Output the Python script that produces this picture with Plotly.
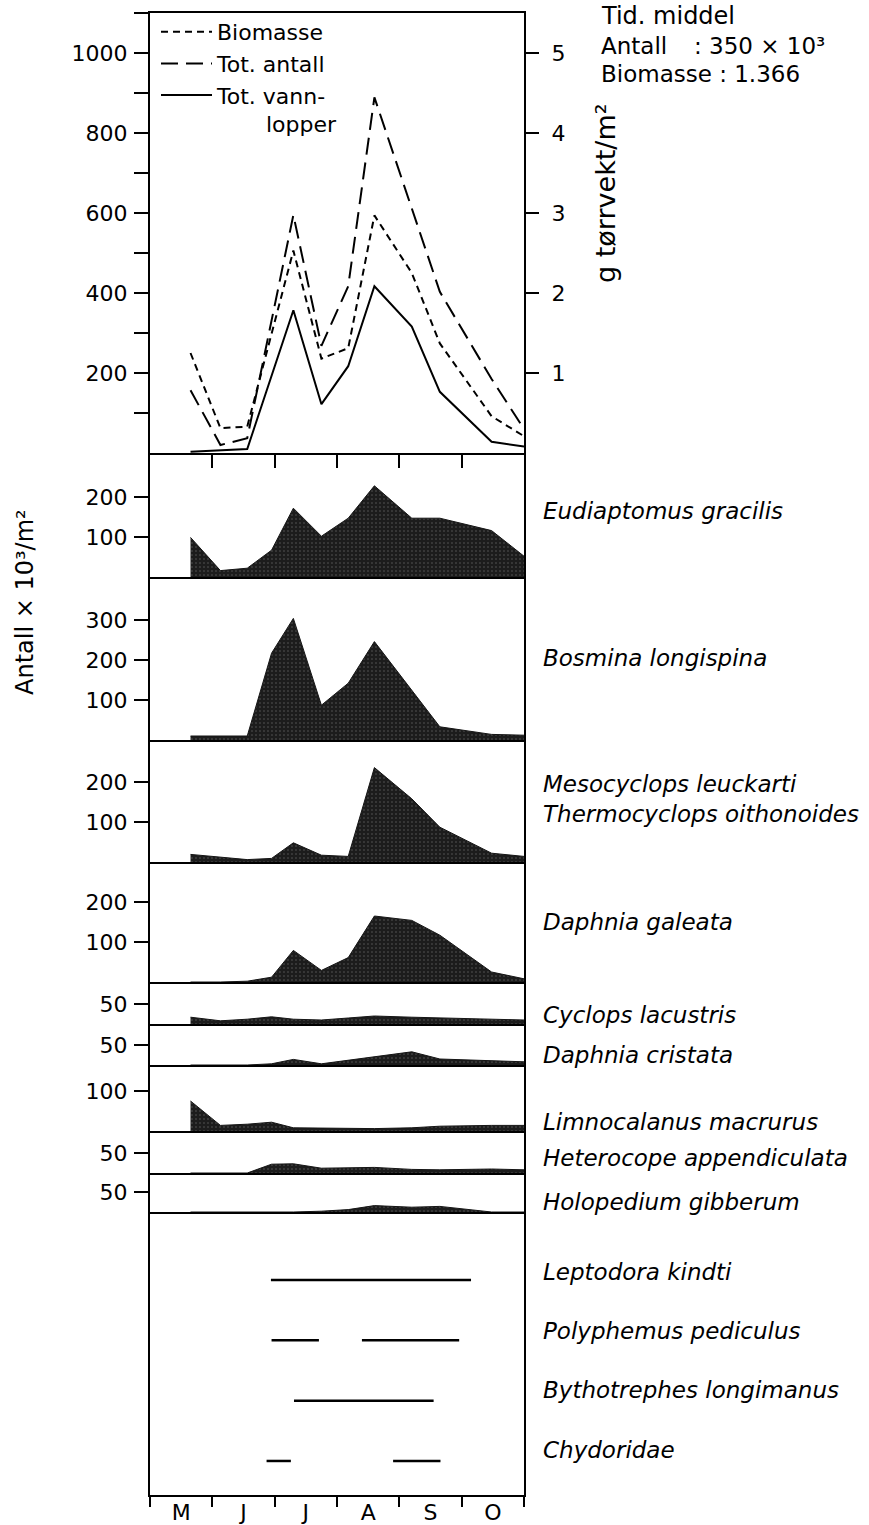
import plotly.graph_objects as go

# ---------------- data ----------------
# sampling dates, in months after 1 May (0 = 1 May ... 6 = 31 Oct)
dates = [0.65, 1.13, 1.56, 1.95, 2.30, 2.75, 3.18, 3.60, 4.20, 4.65, 5.48, 6.0]

months = ["M", "J", "J", "A", "S", "O"]

# top panel: totals (x 10^3 ind./m2) and biomass (g dry weight/m2)
tot_antall = [157, 20, 37, None, 595, 268, 417, 889, None, 403, 185, 60]
tot_vannlopper = [3, None, 10, None, 357, 122, 217, 417, 316, 153, 28, 16]
biomasse_g = [1.25, 0.31, 0.33, None, 2.53, 1.18, 1.31, 2.97, 2.25, 1.37, 0.46, 0.21]

# species densities (x 10^3 ind./m2)
species_names = [
    "Eudiaptomus gracilis",
    "Bosmina longispina",
    "Mesocyclops leuckarti<br>Thermocyclops oithonoides",
    "Daphnia galeata",
    "Cyclops lacustris",
    "Daphnia cristata",
    "Limnocalanus macrurus",
    "Heterocope appendiculata",
    "Holopedium gibberum",
]
eudiaptomus = [99, 16, 22, 67, 172, 102, 147, 228, 147, 147, 116, 52]
bosmina = [10, 10, 10, 217, 304, 87, 142, 246, 125, 33, 14, 12]
meso_thermo = [19, 13, 6, 9, 48, 17, 14, 236, 158, 87, 22, 14]
daphnia_galeata = [0, 0, 2, 12, 79, 29, 61, 165, 154, 117, 25, 8]
cyclops = [17, 8, 12, 18, 12, 10, 15, 20, 17, 15, 12, 10]
daphnia_cristata = [0, 0, 0, 3, 14, 3, 12, 22, 33, 15, 10, 8]
limnocalanus = [75, 14, 17, 22, 8, 7, 6, 6, 8, 12, 14, 14]
heterocope = [0, 0, 0, 22, 23, 12, 13, 14, 9, 8, 10, 8]
holopedium = [0, 0, 0, 0, 0, 2, 6, 16, 12, 14, 0, 0]
species_values = [eudiaptomus, bosmina, meso_thermo, daphnia_galeata, cyclops,
                  daphnia_cristata, limnocalanus, heterocope, holopedium]
species_ticks = [[100, 200], [100, 200, 300], [100, 200], [100, 200],
                 [50], [50], [100], [50], [50]]

# presence only (periods, months after 1 May)
presence_names = ["Leptodora kindti", "Polyphemus pediculus",
                  "Bythotrephes longimanus", "Chydoridae"]
presence_periods = [
    [(1.94, 5.15)],
    [(1.95, 2.71), (3.40, 4.96)],
    [(2.31, 4.55)],
    [(1.87, 2.26), (3.90, 4.66)],
]

# ---------------- layout helpers ----------------
W, H = 869, 1525
L, R = 150, 524
T, B = 13, 1495
edges = [13, 453, 577, 740, 862, 982, 1024, 1065, 1131, 1173, 1212, 1495]
PX_PER_UNIT = 0.4
FONT = "DejaVu Sans"
INK = "black"


def fx(px):
    return (px - L) / (R - L)


def fy(py):
    return (B - py) / (B - T)


def ax_suffix(i):
    return "" if i == 0 else str(i + 1)


fig = go.Figure()
layout = {}
n = len(edges) - 1
for i in range(n):
    top, bot = edges[i], edges[i + 1]
    s = ax_suffix(i)
    layout["xaxis" + s] = dict(
        domain=[0, 1], range=[0, 6], anchor="y" + s, showline=True,
        mirror=(i == 0), linewidth=2, linecolor=INK, showgrid=False,
        zeroline=False, showticklabels=False, ticks="", fixedrange=True,
        automargin=False)
    layout["yaxis" + s] = dict(
        domain=[fy(bot), fy(top)], anchor="x" + s, showline=True, mirror=True,
        linewidth=2, linecolor=INK, showgrid=False, zeroline=False,
        ticks="outside", ticklen=14, tickwidth=2, tickcolor=INK,
        tickfont=dict(family=FONT, size=22, color=INK), ticklabelstandoff=2,
        range=[0, (bot - top) / PX_PER_UNIT], fixedrange=True, automargin=False)

# top panel axes
layout["xaxis"].update(tickmode="array", tickvals=[1, 2, 3, 4, 5], ticks="outside",
                       ticklen=13, tickwidth=2, tickcolor=INK)
layout["yaxis"].update(tickmode="array", tickvals=[200, 400, 600, 800, 1000],
                       ticktext=["200", "400", "600", "800", "1000"],
                       minor=dict(tickmode="array", tickvals=[100, 300, 500, 700, 900, 1100],
                                  ticks="outside", ticklen=14, tickwidth=2, tickcolor=INK))
top_units = (edges[1] - edges[0]) / PX_PER_UNIT
layout["yaxis12"] = dict(
    overlaying="y", side="right", anchor="x", range=[0, top_units / 200],
    tickmode="array", tickvals=[1, 2, 3, 4, 5], ticks="outside", ticklen=13,
    tickwidth=2, tickcolor=INK, showline=True, linewidth=2, linecolor=INK,
    showgrid=False, zeroline=False, ticklabelstandoff=8, automargin=False,
    tickfont=dict(family=FONT, size=22, color=INK), fixedrange=True)

# species axes
for k, tv in enumerate(species_ticks):
    s = ax_suffix(k + 1)
    layout["yaxis" + s].update(tickmode="array", tickvals=tv,
                               ticktext=[str(v) for v in tv])

# presence panel
sp = ax_suffix(n - 1)
layout["yaxis" + sp].update(range=[-0.564, 4.127], ticks="", showticklabels=False)
layout["xaxis" + sp].update(
    tickmode="array", tickvals=[0.5, 1.5, 2.5, 3.5, 4.5, 5.5], ticktext=months,
    showticklabels=True, ticks="", ticklabelstandoff=-3,
    tickfont=dict(family=FONT, size=22, color=INK),
    minor=dict(tickmode="array", tickvals=[0, 1, 2, 3, 4, 5, 6], ticks="outside",
               ticklen=10, tickwidth=2, tickcolor=INK))

# ---------------- traces ----------------
fig.add_trace(go.Scatter(x=dates, y=biomasse_g, name="Biomasse", mode="lines",
                         connectgaps=True, xaxis="x", yaxis="y12",
                         line=dict(color=INK, width=2, dash="7px,5px")))
fig.add_trace(go.Scatter(x=dates, y=tot_antall, name="Tot. antall", mode="lines",
                         connectgaps=True, xaxis="x", yaxis="y",
                         line=dict(color=INK, width=2, dash="17px,8px")))
fig.add_trace(go.Scatter(x=dates, y=tot_vannlopper,
                         name="Tot. vann-<br>\u00a0\u00a0\u00a0\u00a0\u00a0\u00a0\u00a0lopper",
                         mode="lines", connectgaps=True, xaxis="x", yaxis="y",
                         line=dict(color=INK, width=2)))

for k, vals in enumerate(species_values):
    s = ax_suffix(k + 1)
    fig.add_trace(go.Scatter(
        x=dates, y=vals, mode="lines", showlegend=False, xaxis="x" + s, yaxis="y" + s,
        line=dict(color="#151515", width=1), fill="tozeroy", fillcolor="#1c1c1c",
        fillpattern=dict(shape=".", bgcolor="#1c1c1c", fgcolor="#5a5a5a",
                         size=4, solidity=0.12)))

nrow = len(presence_names)
for r, periods in enumerate(presence_periods):
    xs, ys = [], []
    for a, b in periods:
        xs += [a, b, None]
        ys += [nrow - 1 - r] * 2 + [None]
    fig.add_trace(go.Scatter(x=xs, y=ys, mode="lines", showlegend=False,
                             xaxis="x" + sp, yaxis="y" + sp,
                             line=dict(color=INK, width=2.5)))

# ---------------- annotations ----------------
ann = []
lab_font = dict(family=FONT, size=23, color=INK)
species_label_y = [511, 658, 799, 922, 1015, 1055, 1122, 1158, 1202]
for name, py in zip(species_names, species_label_y):
    txt = "<br>".join("<i>" + part + "</i>" for part in name.split("<br>"))
    ann.append(dict(text=txt, x=fx(541), y=fy(py), xref="paper", yref="paper",
                    xanchor="left", yanchor="middle", align="left", showarrow=False,
                    font=lab_font))
presence_label_y = [1272, 1331, 1390, 1450]
for name, py in zip(presence_names, presence_label_y):
    ann.append(dict(text="<i>" + name + "</i>", x=fx(541), y=fy(py), xref="paper",
                    yref="paper", xanchor="left", yanchor="middle", showarrow=False,
                    font=lab_font))

ann.append(dict(text="Antall \u00d7 10\u00b3/m\u00b2", textangle=-90,
                x=fx(25), y=fy(602), xref="paper", yref="paper", xanchor="center",
                yanchor="middle", showarrow=False,
                font=dict(family=FONT, size=24, color=INK)))
ann.append(dict(text="g t\u00f8rrvekt/m\u00b2", textangle=-90,
                x=fx(605), y=fy(193), xref="paper", yref="paper", xanchor="center",
                yanchor="middle", showarrow=False,
                font=dict(family=FONT, size=27, color=INK)))
ann.append(dict(text="Tid. middel", x=fx(599), y=fy(16), xref="paper", yref="paper",
                xanchor="left", yanchor="middle", showarrow=False,
                font=dict(family=FONT, size=24, color=INK)))
ann.append(dict(text="Antall", x=fx(599), y=fy(46), xref="paper", yref="paper",
                xanchor="left", yanchor="middle", showarrow=False, font=lab_font))
ann.append(dict(text=": 350 \u00d7 10\u00b3", x=fx(692), y=fy(46), xref="paper",
                yref="paper", xanchor="left", yanchor="middle", showarrow=False,
                font=lab_font))
ann.append(dict(text="Biomasse : 1.366", x=fx(599), y=fy(74), xref="paper",
                yref="paper", xanchor="left", yanchor="middle", showarrow=False,
                font=lab_font))

fig.update_layout(
    template="none",
    width=W, height=H, autosize=False,
    margin=dict(l=L, r=W - R, t=T, b=H - B, pad=0, autoexpand=False),
    paper_bgcolor="white", plot_bgcolor="white",
    font=dict(family=FONT, size=22, color=INK),
    showlegend=True,
    legend=dict(x=fx(156), y=fy(11), xanchor="left", yanchor="top",
                bgcolor="rgba(0,0,0,0)", borderwidth=0, itemwidth=51,
                tracegroupgap=0, valign="top",
                font=dict(family=FONT, size=22, color=INK)),
    annotations=ann,
    **layout,
)

fig.write_html("out.html", config={"displayModeBar": False},
               post_script="document.body.style.margin='0px';")
